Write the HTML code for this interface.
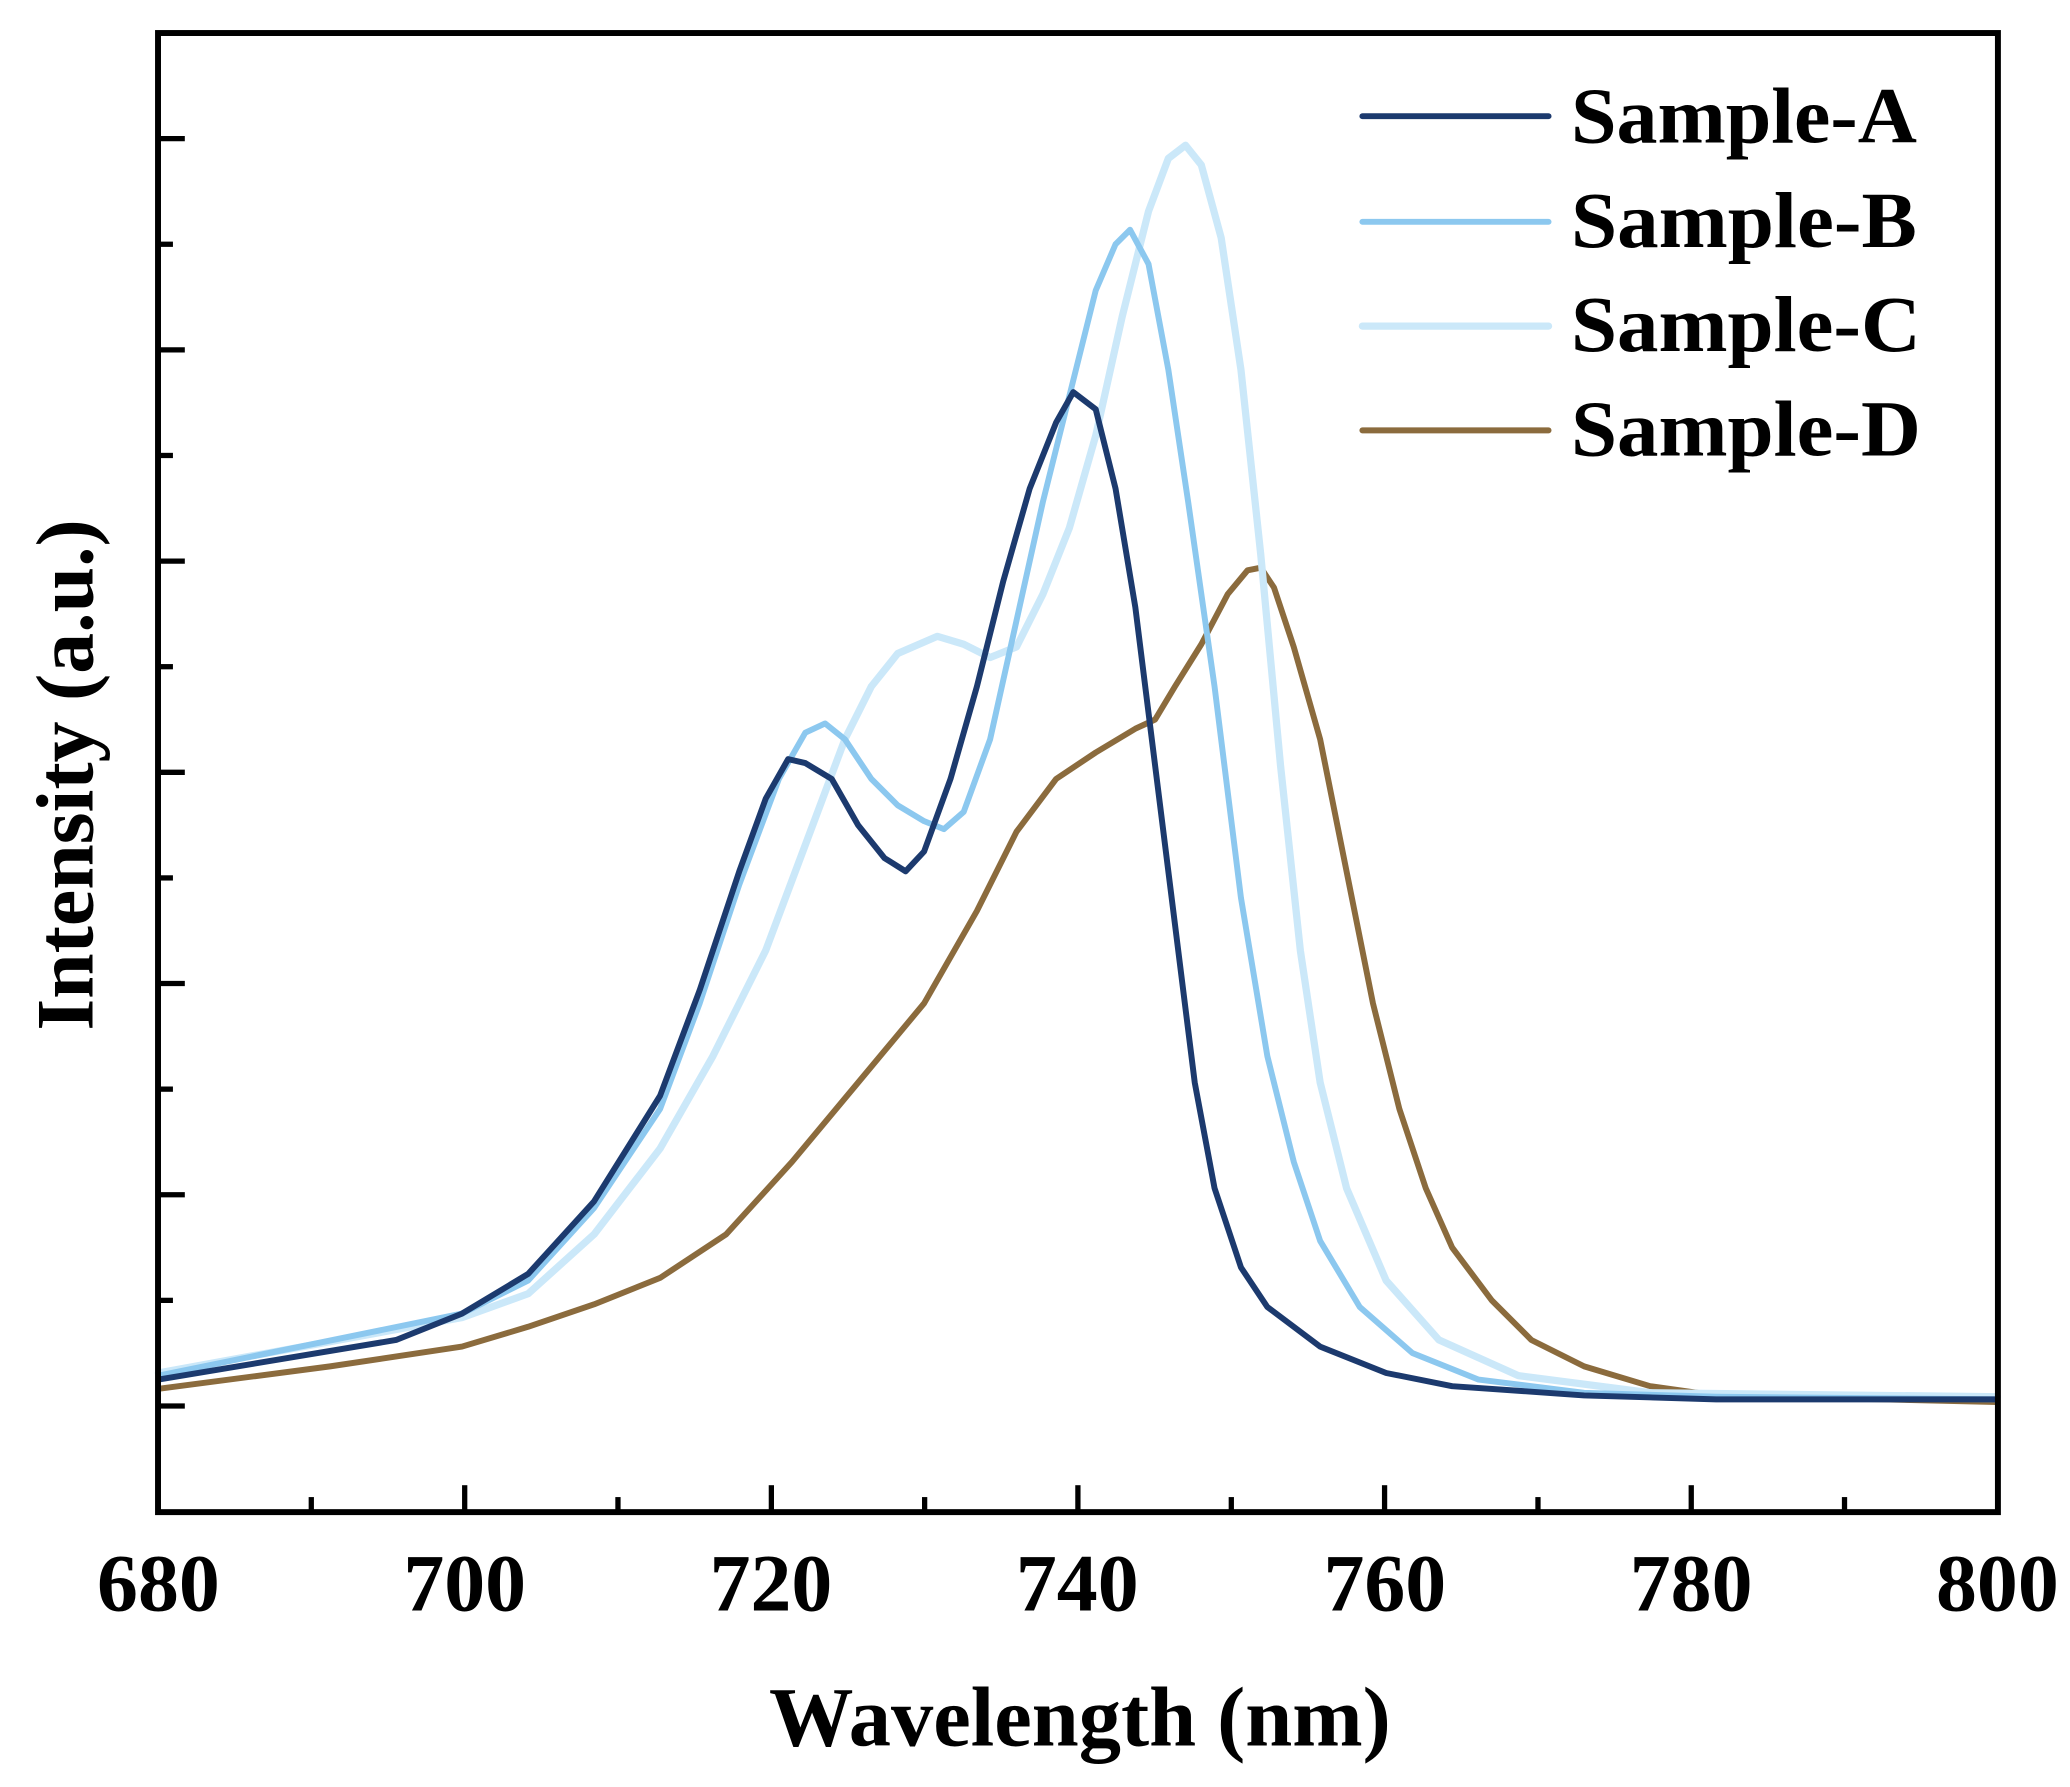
<!DOCTYPE html>
<html><head><meta charset="utf-8"><style>
html,body{margin:0;padding:0;background:#fff;}
svg{display:block;}
text{font-family:"Liberation Serif","DejaVu Serif",serif;font-weight:bold;fill:#000;}
</style></head><body>
<svg width="2070" height="1787" viewBox="0 0 1568 1353.6" xmlns="http://www.w3.org/2000/svg">
<g fill="none" stroke-linejoin="round" stroke-linecap="round" stroke-width="4.5">
<polyline stroke="#8b6b3d" points="120,1052 250,1035 350,1020 400,1005 450,988 500,968 550,935 600,880 650,820 700,760 740,690 770,630 800,590 830,570 860,552 875,545 890,520 910,488 930,450 945,432 955,430 965,445 980,490 1000,560 1020,660 1040,760 1060,840 1080,900 1100,945 1130,985 1160,1015 1200,1035 1250,1050 1300,1057 1513,1062"/>
<polyline stroke="#cbe8f9" stroke-width="5.5" points="120,1040 350,998 400,980 450,935 500,870 540,800 580,720 610,640 640,560 660,520 680,495 710,482 730,488 750,498 770,490 790,450 810,400 830,330 850,240 870,160 885,120 898,110 910,125 925,180 940,280 955,420 970,580 985,720 1000,820 1020,900 1050,970 1090,1015 1150,1042 1250,1055 1513,1058"/>
<polyline stroke="#8cc8ef" points="120,1042 350,995 400,970 450,915 500,840 530,760 560,670 590,590 610,555 625,548 640,560 660,590 680,610 700,622 715,628 730,615 750,560 770,470 790,380 810,300 830,220 845,185 856,174 870,200 885,280 900,380 920,520 940,680 960,800 980,880 1000,940 1030,990 1070,1025 1120,1045 1200,1055 1300,1058 1513,1060"/>
<polyline stroke="#1c3a6e" points="120,1045 300,1015 350,995 400,965 450,910 500,830 530,750 560,660 580,605 597,575 610,578 630,590 650,625 670,650 686,660 700,645 720,590 740,520 760,440 780,370 800,320 813,297 830,310 845,370 860,460 875,580 890,700 905,820 920,900 940,960 960,990 1000,1020 1050,1040 1100,1050 1200,1057 1300,1060 1513,1060"/>
</g>
<rect x="119.7" y="25" width="1393.7" height="1120.4" fill="none" stroke="#000" stroke-width="4.5"/>
<g stroke="#000" stroke-width="4">
<line x1="119.7" y1="105" x2="140" y2="105"/><line x1="119.7" y1="185" x2="131" y2="185"/>
<line x1="119.7" y1="265" x2="140" y2="265"/><line x1="119.7" y1="345" x2="131" y2="345"/>
<line x1="119.7" y1="425" x2="140" y2="425"/><line x1="119.7" y1="505" x2="131" y2="505"/>
<line x1="119.7" y1="585" x2="140" y2="585"/><line x1="119.7" y1="665" x2="131" y2="665"/>
<line x1="119.7" y1="745" x2="140" y2="745"/><line x1="119.7" y1="825" x2="131" y2="825"/>
<line x1="119.7" y1="905" x2="140" y2="905"/><line x1="119.7" y1="985" x2="131" y2="985"/>
<line x1="119.7" y1="1065" x2="140" y2="1065"/>
<line x1="235.8" y1="1145" x2="235.8" y2="1134"/><line x1="352" y1="1145" x2="352" y2="1125"/>
<line x1="468.1" y1="1145" x2="468.1" y2="1134"/><line x1="584.3" y1="1145" x2="584.3" y2="1125"/>
<line x1="700.4" y1="1145" x2="700.4" y2="1134"/><line x1="816.5" y1="1145" x2="816.5" y2="1125"/>
<line x1="932.7" y1="1145" x2="932.7" y2="1134"/><line x1="1048.8" y1="1145" x2="1048.8" y2="1125"/>
<line x1="1165" y1="1145" x2="1165" y2="1134"/><line x1="1281.1" y1="1145" x2="1281.1" y2="1125"/>
<line x1="1397.2" y1="1145" x2="1397.2" y2="1134"/>
</g>
<g font-size="62" text-anchor="middle">
<text x="120" y="1220">680</text><text x="352" y="1220">700</text><text x="584" y="1220">720</text>
<text x="816" y="1220">740</text><text x="1049" y="1220">760</text><text x="1281" y="1220">780</text>
<text x="1513" y="1220">800</text>
</g>
<text x="818" y="1322" font-size="64" text-anchor="middle">Wavelength (nm)</text>
<text transform="translate(70,587) rotate(-90)" font-size="62" text-anchor="middle">Intensity (a.u.)</text>
<g stroke-width="4.5" stroke-linecap="round">
<line x1="1032" y1="88" x2="1173" y2="88" stroke="#1c3a6e"/>
<line x1="1032" y1="168" x2="1173" y2="168" stroke="#8cc8ef"/>
<line x1="1032" y1="247" x2="1173" y2="247" stroke="#cbe8f9" stroke-width="5.5"/>
<line x1="1032" y1="326" x2="1173" y2="326" stroke="#8b6b3d"/>
</g>
<g font-size="60">
<text x="1190" y="108" textLength="262" lengthAdjust="spacingAndGlyphs">Sample-A</text>
<text x="1190" y="187" textLength="262" lengthAdjust="spacingAndGlyphs">Sample-B</text>
<text x="1190" y="266" textLength="265" lengthAdjust="spacingAndGlyphs">Sample-C</text>
<text x="1190" y="345" textLength="265" lengthAdjust="spacingAndGlyphs">Sample-D</text>
</g>
</svg>
</body></html>
